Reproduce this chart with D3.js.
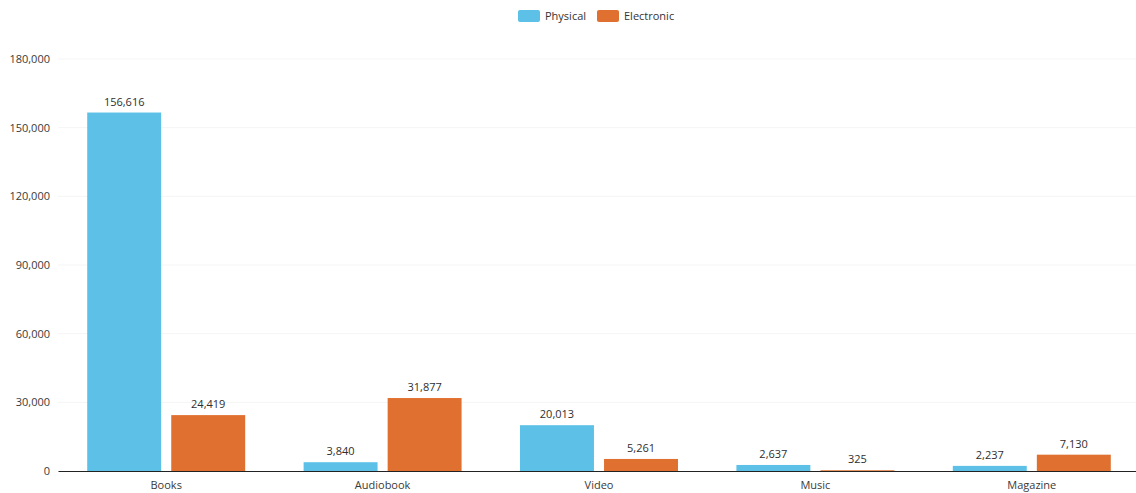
<!DOCTYPE html>
<html>
<head>
<meta charset="utf-8">
<script src="https://cdn.jsdelivr.net/npm/d3@7"></script>
<style>
  html, body { margin: 0; padding: 0; background: #fff; }
  svg { display: block; font-family: "Open Sans", "DejaVu Sans", sans-serif; }
</style>
</head>
<body>
<svg id="chart" width="1136" height="493"></svg>
<script>
// Loans by format
const categories = ["Books", "Audiobook", "Video", "Music", "Magazine"];
const seriesNames = ["Physical", "Electronic"];
const physical = [156616, 3840, 20013, 2637, 2237];
const electronic = [24419, 31877, 5261, 325, 7130];
const yTicks = [0, 30000, 60000, 90000, 120000, 150000, 180000];
const colors = ["#5cc0e7", "#e0702f"];

const rows = categories.map((c, i) => ({ category: c, values: [physical[i], electronic[i]] }));

const svg = d3.select("#chart");
const margin = { left: 58, right: -4, top: 59, bottom: 22 };
const W = 1136, H = 493;

const x0 = d3.scaleBand()
  .domain(categories)
  .range([margin.left, W - margin.right])
  .paddingInner(0.27)
  .paddingOuter(0.135);

const x1 = d3.scaleBand()
  .domain(seriesNames)
  .range([0, x0.bandwidth()])
  .paddingInner(0.12);

const y = d3.scaleLinear()
  .domain([0, 180000])
  .range([H - margin.bottom, margin.top]);

const fmt = d3.format(",");

// faint horizontal grid
svg.append("g")
  .selectAll("line")
  .data(yTicks.filter(d => d > 0))
  .join("line")
  .attr("x1", margin.left)
  .attr("x2", W)
  .attr("y1", d => y(d))
  .attr("y2", d => y(d))
  .attr("stroke", "#f5f5f5")
  .attr("stroke-width", 1);

// y axis labels
const yAxis = d3.axisLeft(y).tickValues(yTicks).tickFormat(fmt).tickSize(0).tickPadding(8);
const gy = svg.append("g")
  .attr("transform", `translate(${margin.left},0)`)
  .call(yAxis);
gy.select(".domain").remove();
gy.selectAll("text")
  .attr("font-size", 11)
  .attr("fill", "#3a3a3a")
  .attr("font-family", "\"Open Sans\", sans-serif");

// bars
const groups = svg.append("g")
  .selectAll("g")
  .data(rows)
  .join("g")
  .attr("transform", d => `translate(${x0(d.category)},0)`);

groups.selectAll("rect")
  .data(d => d.values.map((v, i) => ({ key: seriesNames[i], value: v, i })))
  .join("rect")
  .attr("x", d => x1(d.key))
  .attr("width", x1.bandwidth())
  .attr("y", d => y(d.value))
  .attr("height", d => y(0) - y(d.value))
  .attr("fill", d => colors[d.i]);

groups.selectAll("text")
  .data(d => d.values.map((v, i) => ({ key: seriesNames[i], value: v, i })))
  .join("text")
  .attr("x", d => x1(d.key) + x1.bandwidth() / 2)
  .attr("y", d => y(d.value) - 7)
  .attr("text-anchor", "middle")
  .attr("font-size", 11)
  .attr("fill", "#2e2e2e")
  .text(d => fmt(d.value));

// x axis
const xAxis = d3.axisBottom(x0).tickSize(0).tickPadding(10);
const gx = svg.append("g")
  .attr("transform", `translate(0,${y(0)})`)
  .call(xAxis);
gx.select(".domain").attr("stroke", "#222").attr("stroke-width", 1.2);
gx.selectAll("text")
  .attr("font-size", 11)
  .attr("fill", "#3a3a3a")
  .attr("font-family", "\"Open Sans\", sans-serif");

// legend
const legend = svg.append("g").attr("transform", "translate(518,10)");
const items = legend.selectAll("g")
  .data(seriesNames)
  .join("g")
  .attr("transform", (d, i) => `translate(${i * 79},0)`);
items.append("rect")
  .attr("width", 22)
  .attr("height", 12)
  .attr("rx", 2)
  .attr("fill", (d, i) => colors[i]);
items.append("text")
  .attr("x", 27)
  .attr("y", 10)
  .attr("font-size", 11)
  .attr("fill", "#333")
  .text(d => d);
</script>
</body>
</html>
